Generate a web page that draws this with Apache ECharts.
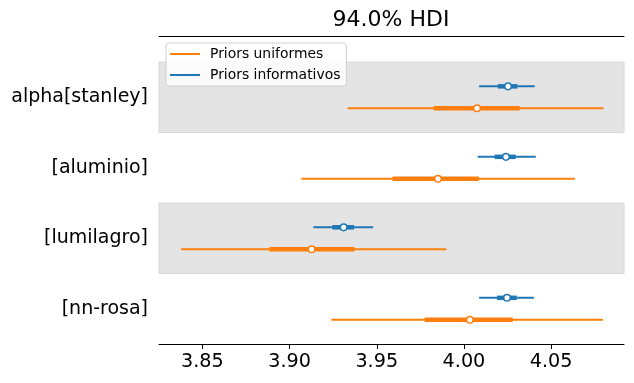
<!DOCTYPE html>
<html>
<head>
<meta charset="utf-8">
<script src="https://cdn.jsdelivr.net/npm/echarts@6/dist/echarts.min.js"></script>
<style>html,body{margin:0;padding:0;background:#fff}#c{width:634px;height:383px}</style>
</head>
<body>
<div id="c"></div>
<script>
const labels = ['alpha[stanley]', '[aluminio]', '[lumilagro]', '[nn-rosa]'];
const xTicks = [3.85, 3.90, 3.95, 4.00, 4.05];
const seriesNames = ['Priors uniformes', 'Priors informativos'];

const informHdiLow = [4.0087, 4.0079, 3.9136, 4.0087];
const informHdiHigh = [4.0406, 4.0412, 3.9479, 4.0401];
const informQLow = [4.0194, 4.0176, 3.9245, 4.0190];
const informQHigh = [4.0307, 4.0297, 3.9370, 4.0303];
const informCenter = [4.0253, 4.0241, 3.9310, 4.0247];

const uniformHdiLow = [3.9333, 3.9067, 3.8378, 3.9240];
const uniformHdiHigh = [4.0801, 4.0636, 3.9899, 4.0797];
const uniformQLow = [3.9826, 3.9590, 3.8883, 3.9774];
const uniformQHigh = [4.0320, 4.0085, 3.9372, 4.0280];
const uniformCenter = [4.0075, 3.9851, 3.9126, 4.0034];

const FONT = 'DejaVu Sans';
const ORANGE = '#ff7f0e', BLUE = '#1f77b4';
const n = labels.length;

function build(lo, hi, qlo, qhi, c, off) {
  return labels.map((l, i) => [lo[i], hi[i], qlo[i], qhi[i], c[i], (n - 1 - i) + 0.5 + off]);
}

function renderItem(params, api) {
  const color = api.visual('color');
  const y = api.value(5);
  const a = api.coord([api.value(0), y]);
  const b = api.coord([api.value(1), y]);
  const qa = api.coord([api.value(2), y]);
  const qb = api.coord([api.value(3), y]);
  const m = api.coord([api.value(4), y]);
  return {
    type: 'group',
    children: [
      {type: 'line', shape: {x1: a[0], y1: a[1], x2: b[0], y2: b[1]}, style: {stroke: color, lineWidth: 2}},
      {type: 'line', shape: {x1: qa[0], y1: qa[1], x2: qb[0], y2: qb[1]}, style: {stroke: color, lineWidth: 4.5}},
      {type: 'circle', shape: {cx: m[0], cy: m[1], r: 3.3}, style: {fill: '#fff', stroke: color, lineWidth: 1.5}}
    ]
  };
}

const chart = echarts.init(document.getElementById('c'));
chart.setOption({
  animation: false,
  textStyle: {fontFamily: FONT},
  title: {
    text: '94.0% HDI', left: 391, top: 9, textAlign: 'center', padding: 0,
    textStyle: {fontFamily: FONT, fontSize: 22, fontWeight: 'normal', color: '#000'}
  },
  legend: {
    data: [{name: seriesNames[0], icon: 'rect'}, {name: seriesNames[1], icon: 'rect'}],
    orient: 'vertical', left: 166, top: 43,
    itemWidth: 30, itemHeight: 2, itemGap: 7,
    padding: [4, 6, 4, 4],
    backgroundColor: 'rgba(255,255,255,0.85)', borderColor: '#d0d0d0', borderWidth: 1, borderRadius: 3,
    textStyle: {fontFamily: FONT, fontSize: 13.9, color: '#000', padding: [0, 0, 0, 5]}
  },
  grid: {left: 159, right: 10, top: 36, bottom: 39},
  xAxis: [{
    type: 'value', min: 3.8251, max: 4.0918, position: 'bottom',
    splitLine: {show: false},
    axisLine: {lineStyle: {color: '#000', width: 1}},
    axisTick: {show: true, length: 5, lineStyle: {color: '#000'}, customValues: xTicks},
    axisLabel: {customValues: xTicks, formatter: v => v.toFixed(2), color: '#000', fontSize: 19.2, margin: 9, fontFamily: FONT}
  }, {
    type: 'value', min: 3.8251, max: 4.0918, position: 'top',
    splitLine: {show: false},
    axisLine: {show: true, onZero: false, lineStyle: {color: '#000', width: 1}},
    axisTick: {show: false}, axisLabel: {show: false}
  }],
  yAxis: {
    type: 'value', min: 0, max: 4.369,
    splitLine: {show: false}, axisLine: {show: false}, axisTick: {show: false},
    axisLabel: {
      customValues: labels.map((l, i) => i + 0.5),
      formatter: v => labels[n - 1 - Math.floor(v)],
      color: '#000', fontSize: 19, margin: 11, fontFamily: FONT, padding: [5, 0, 0, 0]
    }
  },
  series: [
    {
      type: 'line', data: [], silent: true,
      markArea: {
        silent: true,
        itemStyle: {color: '#e4e4e4', borderColor: '#d8d8d8', borderWidth: 1},
        data: [[{yAxis: 3}, {yAxis: 4}], [{yAxis: 1}, {yAxis: 2}]]
      }
    },
    {
      name: seriesNames[0], type: 'custom', renderItem, itemStyle: {color: ORANGE},
      encode: {x: [0, 1, 2, 3, 4], y: 5},
      data: build(uniformHdiLow, uniformHdiHigh, uniformQLow, uniformQHigh, uniformCenter, -0.155)
    },
    {
      name: seriesNames[1], type: 'custom', renderItem, itemStyle: {color: BLUE},
      encode: {x: [0, 1, 2, 3, 4], y: 5},
      data: build(informHdiLow, informHdiHigh, informQLow, informQHigh, informCenter, 0.155)
    }
  ]
});
</script>
</body>
</html>
